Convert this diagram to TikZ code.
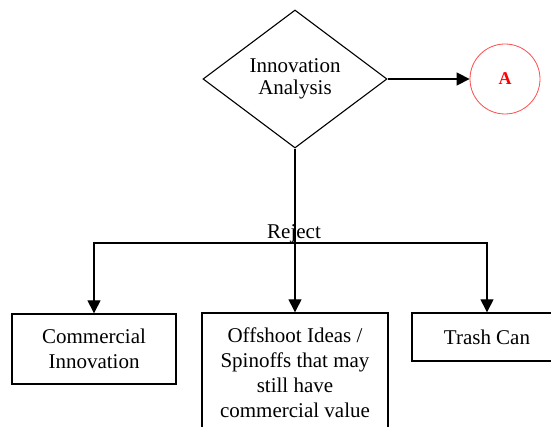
\documentclass[tikz,border=0pt]{standalone}
\usepackage{fontspec}
\setmainfont{Liberation Serif}
\usetikzlibrary{shapes.geometric,arrows.meta}

\begin{document}
\begin{tikzpicture}
  [x=1pt,y=-1pt,line width=1.4pt,
   every node/.style={font=\fontsize{21}{25}\selectfont,align=center},
   box/.style={draw,rectangle,inner sep=0pt},
   arr/.style={-{Triangle[length=13pt,width=13pt]}}]
  \clip (0,0) rectangle (551,427);
  \node[draw,diamond,inner sep=0pt,minimum width=184pt,minimum height=138pt,line width=1.1pt] (ana) at (295,79) {Innovation\\[-3pt]Analysis};
  \node[draw=red!70,circle,line width=0.8pt,minimum size=70pt,text=red,font=\fontsize{18}{20}\selectfont\bfseries] (a) at (505,79) {A};
  \coordinate (split) at (295,243);
  \node[anchor=base] (rej) at (294,239) {Reject};
  \node[box,minimum width=164pt,minimum height=70pt] (ci) at (94,349) {Commercial\\Innovation};
  \node[box,minimum width=186pt,minimum height=119pt] (spin) at (295,372.5) {Offshoot Ideas /\\Spinoffs that may\\still have\\commercial value};
  \node[box,minimum width=150pt,minimum height=48pt] (trash) at (487,337) {Trash Can};
  \draw[arr] (ana.east) -- (a.west);
  \draw (ana.south) -- (split);
  \foreach \to in {ci,spin,trash}
    \draw[arr] (split) -| (\to.north);
\end{tikzpicture}
\end{document}
